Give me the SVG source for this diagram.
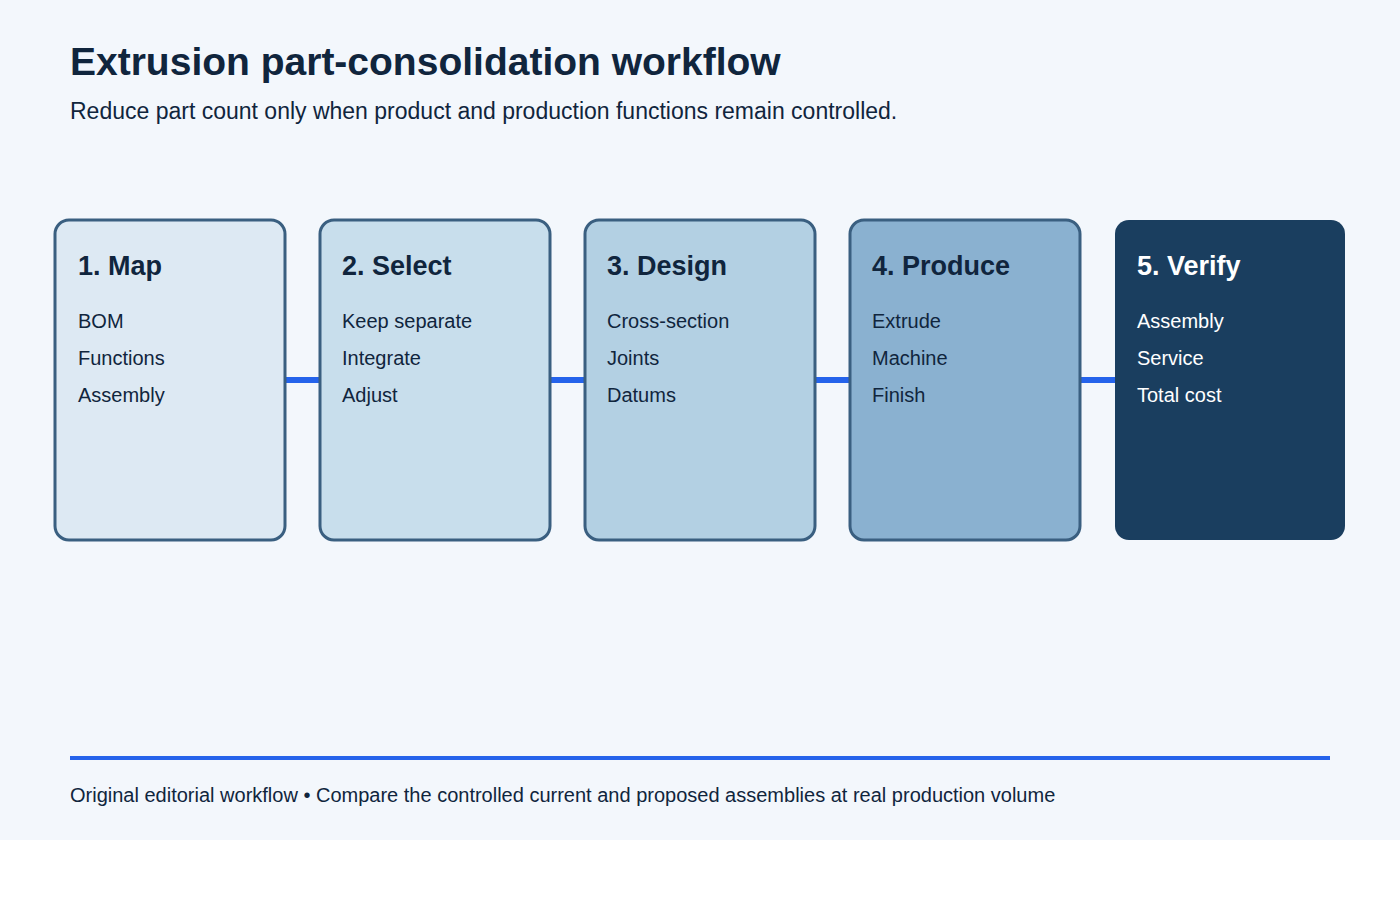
<svg xmlns="http://www.w3.org/2000/svg" width="1400" height="900" viewBox="0 0 1400 900">
<style>
.bg{fill:#f3f7fc}
.box{stroke:#3a5f80;stroke-width:3}
.t{font-family:"Liberation Sans",Arial,sans-serif;fill:#10253d}
.h{font-size:27px;font-weight:bold}
.i{font-size:20px}
.w{fill:#ffffff}
.conn{stroke:#2563eb;stroke-width:6;fill:none}
</style>
<rect class="bg" x="0" y="0" width="1400" height="840"/>
<text class="t" x="70" y="75" font-size="39" font-weight="bold">Extrusion part-consolidation workflow</text>
<text class="t" x="70" y="119" font-size="23">Reduce part count only when product and production functions remain controlled.</text>
<g id="connectors">
<line class="conn" x1="285" y1="380" x2="320" y2="380"/>
<line class="conn" x1="550" y1="380" x2="585" y2="380"/>
<line class="conn" x1="815" y1="380" x2="850" y2="380"/>
<line class="conn" x1="1080" y1="380" x2="1115" y2="380"/>
</g>
<g id="node1">
<rect class="box" x="55" y="220" width="230" height="320" rx="14" fill="#dde9f3"/>
<text class="t h" x="78" y="275">1. Map</text>
<text class="t i" x="78" y="328">BOM</text>
<text class="t i" x="78" y="365">Functions</text>
<text class="t i" x="78" y="402">Assembly</text>
</g>
<g id="node2">
<rect class="box" x="320" y="220" width="230" height="320" rx="14" fill="#c8deec"/>
<text class="t h" x="342" y="275">2. Select</text>
<text class="t i" x="342" y="328">Keep separate</text>
<text class="t i" x="342" y="365">Integrate</text>
<text class="t i" x="342" y="402">Adjust</text>
</g>
<g id="node3">
<rect class="box" x="585" y="220" width="230" height="320" rx="14" fill="#b3d0e3"/>
<text class="t h" x="607" y="275">3. Design</text>
<text class="t i" x="607" y="328">Cross-section</text>
<text class="t i" x="607" y="365">Joints</text>
<text class="t i" x="607" y="402">Datums</text>
</g>
<g id="node4">
<rect class="box" x="850" y="220" width="230" height="320" rx="14" fill="#8ab1d0"/>
<text class="t h" x="872" y="275">4. Produce</text>
<text class="t i" x="872" y="328">Extrude</text>
<text class="t i" x="872" y="365">Machine</text>
<text class="t i" x="872" y="402">Finish</text>
</g>
<g id="node5">
<rect x="1115" y="220" width="230" height="320" rx="14" fill="#1a3e5f"/>
<text class="t h w" x="1137" y="275">5. Verify</text>
<text class="t i w" x="1137" y="328">Assembly</text>
<text class="t i w" x="1137" y="365">Service</text>
<text class="t i w" x="1137" y="402">Total cost</text>
</g>
<line x1="70" y1="758" x2="1330" y2="758" stroke="#2563eb" stroke-width="4"/>
<text class="t" x="70" y="802" font-size="20">Original editorial workflow • Compare the controlled current and proposed assemblies at real production volume</text>
</svg>
